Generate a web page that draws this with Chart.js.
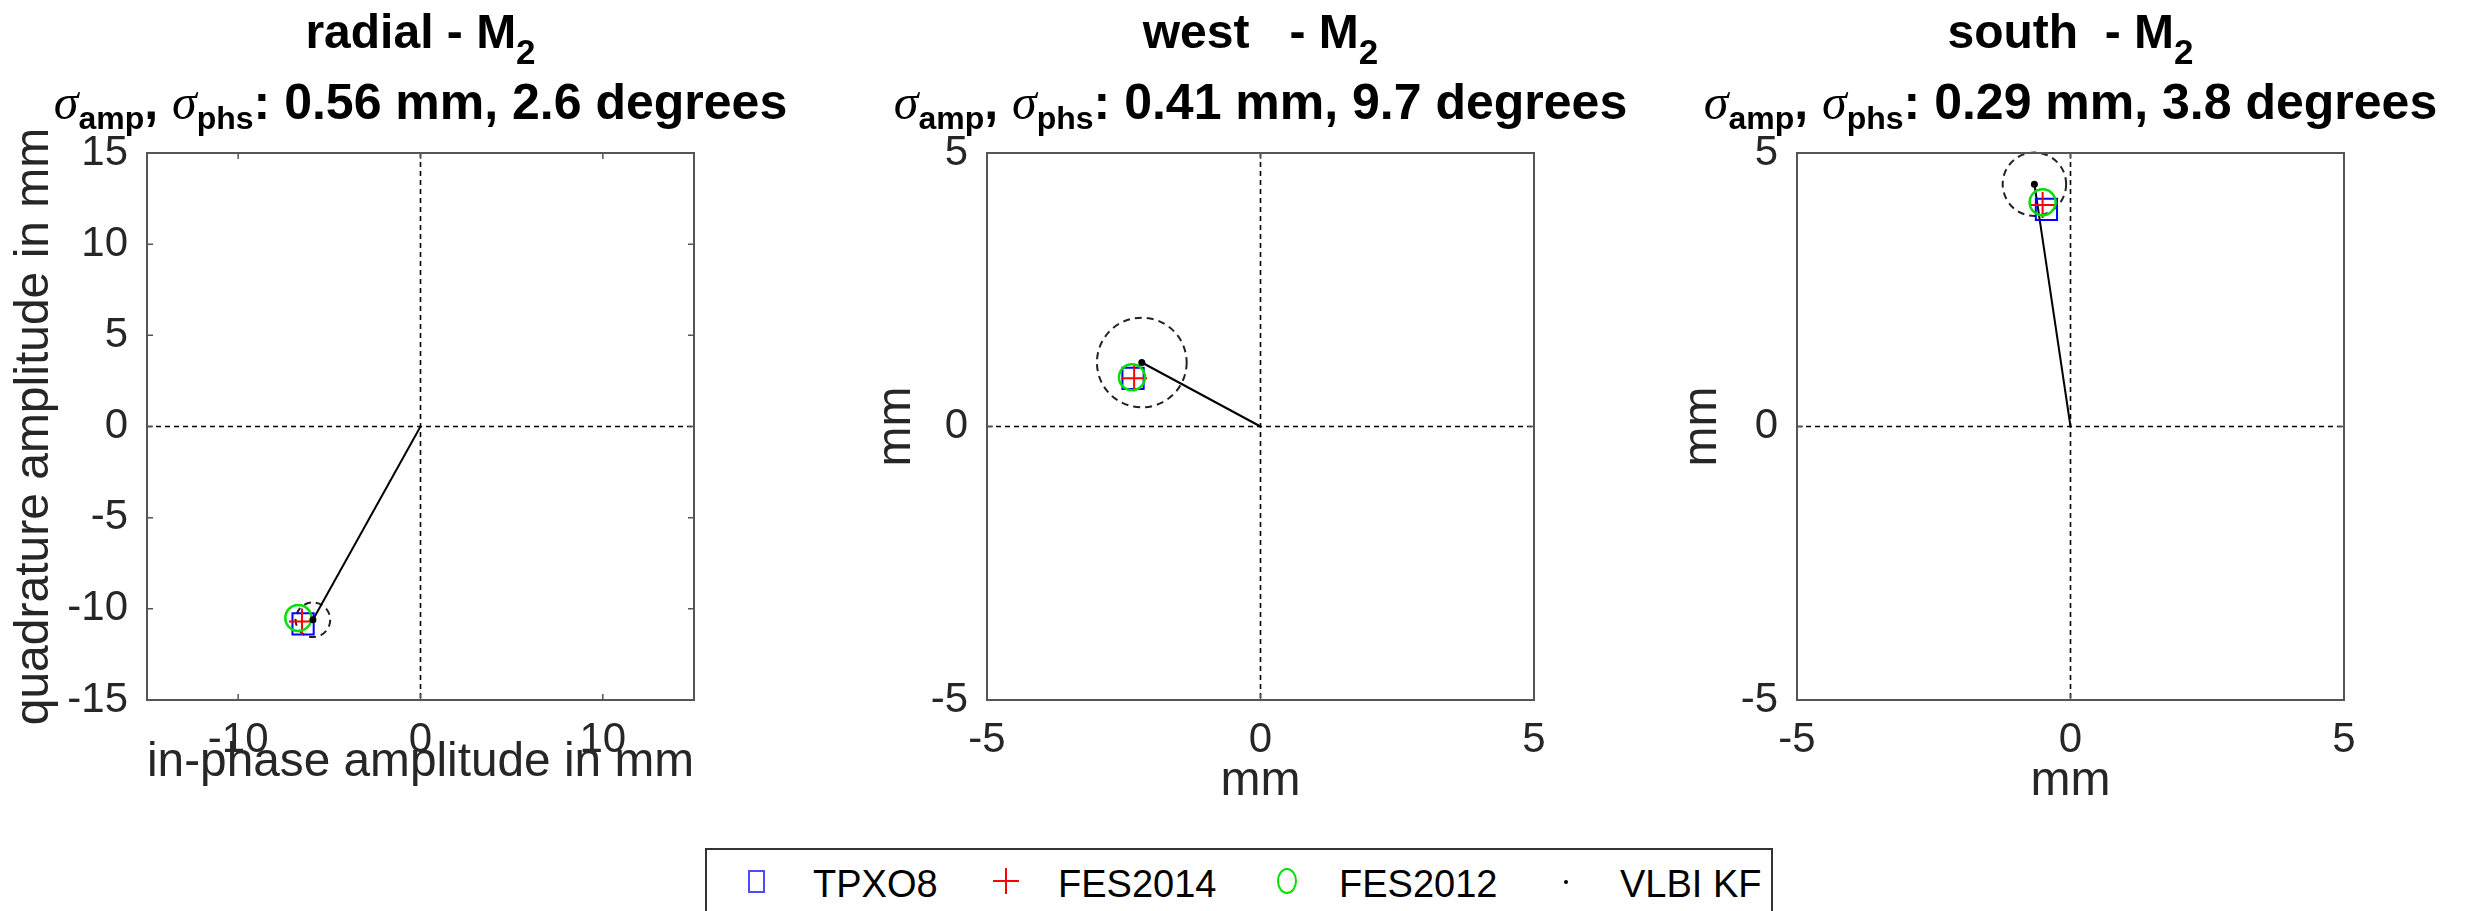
<!DOCTYPE html>
<html>
<head>
<meta charset="utf-8">
<script src="https://cdn.jsdelivr.net/npm/chart.js@4"></script>
<style>
  html, body { margin: 0; padding: 0; background: #fff; }
  body { width: 2471px; height: 911px; position: relative; overflow: hidden; font-family: 'Liberation Sans', Arial, sans-serif; }
  .chartBox { position: absolute; top: 0; width: 760px; height: 840px; }
  .ttl { position: absolute; text-align: center; font-weight: bold; color: #000; white-space: pre; line-height: 60px; z-index: 2; }
  .ttl.l1 { font-size: 48px; top: 2px; }
  .ttl.l2 { font-size: 50px; top: 72px; }
  .ttl.l1 .sub { font-size: 35px; position: relative; top: 16px; }
  .ttl.l2 .sub { font-size: 32px; position: relative; top: 10px; }
  .ttl .sig { font-family: 'Liberation Serif', 'DejaVu Serif', serif; font-style: italic; font-weight: normal; }
  .legend { position: absolute; left: 705px; top: 848px; width: 1068px; height: 80px; border: 2px solid #333; border-bottom: none; background: #fff; box-sizing: border-box; }
  .legend .item { position: absolute; top: 13px; font-size: 38px; line-height: 42px; color: #000; }
  .legend .sym { position: absolute; }
</style>
</head>
<body>
<div id="wrap"></div>
<div class="legend" id="legend"></div>
<script>
// panels
const panelNames = ["radial", "west  ", "south "];
const sigmaAmp = ["0.56", "0.41", "0.29"];
const sigmaPhs = ["2.6", "9.7", "3.8"];
const axisLimit = [15, 5, 5];
const xTicks = [[-10, 0, 10], [-5, 0, 5], [-5, 0, 5]];
const yTicks = [[-15, -10, -5, 0, 5, 10, 15], [-5, 0, 5], [-5, 0, 5]];
const xTitles = ["in-phase amplitude in mm", "mm", "mm"];
const yTitles = ["quadrature amplitude in mm", "mm", "mm"];

// model / observation values (in-phase, quadrature) in mm
const tpxo8X   = [-6.44, -2.33, -0.44];
const tpxo8Y   = [-10.82, 0.88, 3.97];
const fes2014X = [-6.50, -2.31, -0.51];
const fes2014Y = [-10.70, 0.88, 4.05];
const fes2012X = [-6.70, -2.35, -0.51];
const fes2012Y = [-10.50, 0.90, 4.10];
const vlbiX    = [-5.90, -2.17, -0.66];
const vlbiY    = [-10.60, 1.17, 4.43];
const errRadius = [0.95, 0.82, 0.58];

const legendLabels = ["TPXO8", "FES2014", "FES2012", "VLBI KF"];

Chart.defaults.font.family = "'Liberation Sans', Arial, sans-serif";
Chart.defaults.color = "#262626";

const canvasLeft = [0, 840, 1650];
const plotLeft = 147, plotTop = 153, plotSize = 547, canvasW = 760, canvasH = 840;
const yTitlePad = [6, 28, 24];
const xTitlePad = [48, 29, 29];

// zero lines, dashed error circle, inward ticks, box
const decor = {
  id: "decor",
  beforeDatasetsDraw(chart, args, opts){
    const {ctx, chartArea: a, scales: {x, y}} = chart;
    ctx.save();
    ctx.strokeStyle = "#000";
    ctx.lineWidth = 1.6;
    ctx.setLineDash([5, 4]);
    const x0 = x.getPixelForValue(0), y0 = y.getPixelForValue(0);
    ctx.beginPath();
    ctx.moveTo(x0, a.top); ctx.lineTo(x0, a.bottom);
    ctx.moveTo(a.left, y0); ctx.lineTo(a.right, y0);
    ctx.stroke();
    // error circle round VLBI estimate
    const i = opts.idx;
    const cx = x.getPixelForValue(vlbiX[i]), cy = y.getPixelForValue(vlbiY[i]);
    const r = x.getPixelForValue(vlbiX[i] + errRadius[i]) - cx;
    ctx.setLineDash([7, 5]);
    ctx.lineWidth = 2;
    ctx.strokeStyle = "#222";
    ctx.beginPath();
    ctx.arc(cx, cy, r, 0, Math.PI * 2);
    ctx.stroke();
    ctx.restore();
  },
  afterDraw(chart, args, opts){
    const {ctx, chartArea: a, scales: {x, y}} = chart;
    const i = opts.idx;
    ctx.save();
    ctx.strokeStyle = "#555";
    ctx.lineWidth = 2;
    ctx.strokeRect(a.left, a.top, a.right - a.left, a.bottom - a.top);
    ctx.lineWidth = 1.5;
    ctx.beginPath();
    xTicks[i].forEach(v => {
      const px = x.getPixelForValue(v);
      ctx.moveTo(px, a.bottom); ctx.lineTo(px, a.bottom - 6);
      ctx.moveTo(px, a.top); ctx.lineTo(px, a.top + 6);
    });
    yTicks[i].forEach(v => {
      const py = y.getPixelForValue(v);
      ctx.moveTo(a.left, py); ctx.lineTo(a.left + 6, py);
      ctx.moveTo(a.right, py); ctx.lineTo(a.right - 6, py);
    });
    ctx.stroke();
    ctx.restore();
  }
};

const wrap = document.getElementById("wrap");

function addTitleLine(cls, i, html){
  const d = document.createElement("div");
  d.className = "ttl " + cls;
  d.style.left = (canvasLeft[i] + plotLeft - 150) + "px";
  d.style.width = (plotSize + 300) + "px";
  d.innerHTML = html;
  document.body.appendChild(d);
}

panelNames.forEach((name, i) => {
  const box = document.createElement("div");
  box.className = "chartBox";
  box.style.left = canvasLeft[i] + "px";
  const cv = document.createElement("canvas");
  box.appendChild(cv);
  wrap.appendChild(box);

  addTitleLine("l1", i, `${name} - M<span class="sub">2</span>`);
  addTitleLine("l2", i, `<span class="sig">σ</span><span class="sub">amp</span>, <span class="sig">σ</span><span class="sub">phs</span>: ${sigmaAmp[i]} mm, ${sigmaPhs[i]} degrees`);

  const lim = axisLimit[i];
  new Chart(cv, {
    type: "scatter",
    data: {
      datasets: [
        { label: "link", data: [{x: 0, y: 0}, {x: vlbiX[i], y: vlbiY[i]}], showLine: true,
          borderColor: "#000", borderWidth: 2, pointRadius: 0, order: 5 },
        { label: legendLabels[0], data: [{x: tpxo8X[i], y: tpxo8Y[i]}], pointStyle: "rect",
          pointRadius: 15, borderColor: "#0000ff", borderWidth: 2, backgroundColor: "transparent", order: 4 },
        { label: legendLabels[1], data: [{x: fes2014X[i], y: fes2014Y[i]}], pointStyle: "cross",
          pointRadius: 13, borderColor: "#ff0000", borderWidth: 2, backgroundColor: "transparent", order: 3 },
        { label: legendLabels[2], data: [{x: fes2012X[i], y: fes2012Y[i]}], pointStyle: "circle",
          pointRadius: 13, borderColor: "#00e000", borderWidth: 2.5, backgroundColor: "transparent", order: 2 },
        { label: legendLabels[3], data: [{x: vlbiX[i], y: vlbiY[i]}], pointStyle: "circle",
          pointRadius: 3.5, borderColor: "#000", borderWidth: 0, backgroundColor: "#000", order: 1 }
      ]
    },
    options: {
      responsive: true,
      maintainAspectRatio: false,
      animation: false,
      events: [],
      layout: { padding: { left: 0, top: plotTop, right: canvasW - plotLeft - plotSize, bottom: 0 } },
      plugins: { legend: { display: false }, tooltip: { enabled: false }, decor: { idx: i } },
      scales: {
        x: {
          type: "linear", min: -lim, max: lim,
          afterBuildTicks: s => { s.ticks = xTicks[i].map(v => ({value: v})); },
          afterFit: s => { s.height = canvasH - plotTop - plotSize; },
          grid: { display: false, drawTicks: false },
          border: { display: false },
          ticks: { font: { size: 42 }, color: "#262626", padding: 15, maxRotation: 0 },
          title: { display: true, text: xTitles[i], font: { size: 48 }, color: "#262626", padding: { top: 0, bottom: xTitlePad[i] } }
        },
        y: {
          type: "linear", min: -lim, max: lim,
          afterBuildTicks: s => { s.ticks = yTicks[i].map(v => ({value: v})); },
          afterFit: s => { s.width = plotLeft; },
          grid: { display: false, drawTicks: false },
          border: { display: false },
          ticks: { font: { size: 42 }, color: "#262626", padding: 19 },
          title: { display: true, text: yTitles[i], font: { size: 48 }, color: "#262626", padding: { top: yTitlePad[i], bottom: 0 } }
        }
      }
    },
    plugins: [decor]
  });
});

// legend
const legend = document.getElementById("legend");
const symX = [41, 286, 570, 857];
const txtX = [106, 351, 632, 913];
const symHtml = [
  '<div style="width:17px;height:23px;border:2px solid #4b4bff;box-sizing:border-box"></div>',
  '<div style="position:relative;width:26px;height:26px"><div style="position:absolute;left:12px;top:0;width:2px;height:26px;background:#f00"></div><div style="position:absolute;left:0;top:12px;width:26px;height:2px;background:#f00"></div></div>',
  '<div style="width:20px;height:26px;border:2px solid #00e000;border-radius:50%;box-sizing:border-box"></div>',
  '<div style="width:4px;height:4px;border-radius:2px;background:#000"></div>'
];
const symTop = [20, 18, 18, 30];
legendLabels.forEach((lab, k) => {
  const s = document.createElement("div");
  s.className = "sym";
  s.style.left = symX[k] + "px";
  s.style.top = symTop[k] + "px";
  s.innerHTML = symHtml[k];
  legend.appendChild(s);
  const t = document.createElement("div");
  t.className = "item";
  t.style.left = txtX[k] + "px";
  t.textContent = lab;
  legend.appendChild(t);
});
</script>
</body>
</html>
